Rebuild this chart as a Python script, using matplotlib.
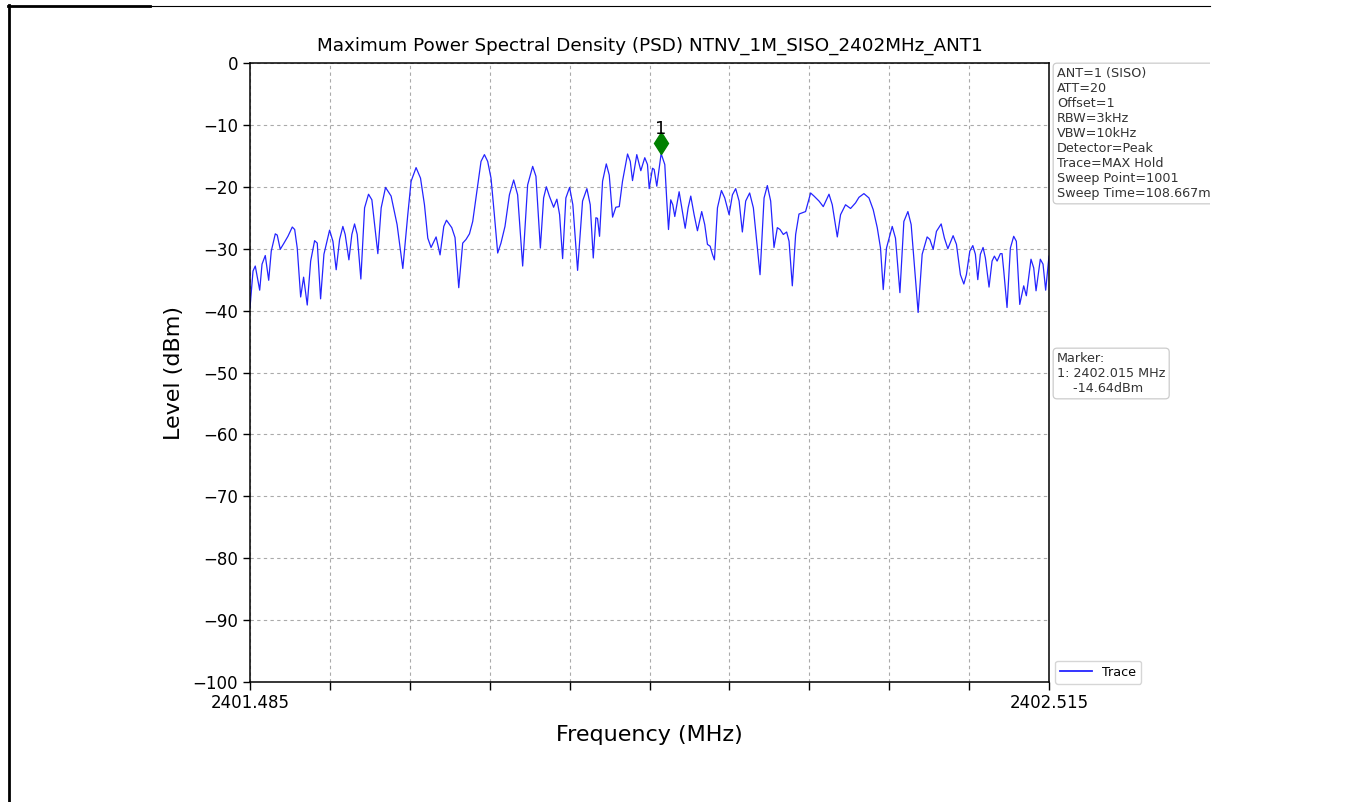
import matplotlib
matplotlib.use("Agg")
import matplotlib.pyplot as plt
from matplotlib import transforms
from matplotlib.lines import Line2D
from matplotlib.patches import Rectangle

# ---------------- data ----------------
freq_mhz = [
    2401.4850, 2401.4889, 2401.4918, 2401.4975, 2401.5005, 2401.5047, 2401.5091, 2401.5124,
    2401.5176, 2401.5201, 2401.5240, 2401.5288, 2401.5339, 2401.5395, 2401.5426, 2401.5459,
    2401.5503, 2401.5541, 2401.5588, 2401.5632, 2401.5683, 2401.5717, 2401.5760, 2401.5803,
    2401.5876, 2401.5919, 2401.5961, 2401.6005, 2401.6047, 2401.6077, 2401.6125, 2401.6163,
    2401.6198, 2401.6232, 2401.6279, 2401.6327, 2401.6378, 2401.6421, 2401.6498, 2401.6541,
    2401.6597, 2401.6669, 2401.6746, 2401.6820, 2401.6884, 2401.6927, 2401.6991, 2401.7048,
    2401.7099, 2401.7142, 2401.7184, 2401.7249, 2401.7300, 2401.7348, 2401.7383, 2401.7451,
    2401.7493, 2401.7541, 2401.7592, 2401.7635, 2401.7679, 2401.7721, 2401.7786, 2401.7828,
    2401.7872, 2401.7914, 2401.7957, 2401.8000, 2401.8043, 2401.8085, 2401.8137, 2401.8194,
    2401.8249, 2401.8300, 2401.8365, 2401.8429, 2401.8494, 2401.8536, 2401.8593, 2401.8635,
    2401.8670, 2401.8709, 2401.8764, 2401.8806, 2401.8841, 2401.8880, 2401.8922, 2401.8970,
    2401.9012, 2401.9073, 2401.9137, 2401.9193, 2401.9236, 2401.9275, 2401.9309, 2401.9330,
    2401.9356, 2401.9395, 2401.9443, 2401.9481, 2401.9524, 2401.9566, 2401.9610, 2401.9652,
    2401.9717, 2401.9752, 2401.9781, 2401.9836, 2401.9888, 2401.9939, 2401.9974, 2401.9996,
    2402.0039, 2402.0060, 2402.0094, 2402.0125, 2402.0150, 2402.0197, 2402.0223, 2402.0245,
    2402.0274, 2402.0300, 2402.0326, 2402.0382, 2402.0425, 2402.0460, 2402.0498, 2402.0532,
    2402.0575, 2402.0618, 2402.0673, 2402.0712, 2402.0747, 2402.0782, 2402.0811, 2402.0837,
    2402.0876, 2402.0927, 2402.0970, 2402.1026, 2402.1069, 2402.1111, 2402.1155, 2402.1197,
    2402.1240, 2402.1291, 2402.1339, 2402.1425, 2402.1477, 2402.1519, 2402.1562, 2402.1605,
    2402.1648, 2402.1683, 2402.1725, 2402.1768, 2402.1799, 2402.1841, 2402.1884, 2402.1927,
    2402.1970, 2402.2012, 2402.2077, 2402.2121, 2402.2185, 2402.2240, 2402.2314, 2402.2356,
    2402.2421, 2402.2463, 2402.2527, 2402.2592, 2402.2656, 2402.2700, 2402.2764, 2402.2829,
    2402.2884, 2402.2936, 2402.2978, 2402.3013, 2402.3055, 2402.3129, 2402.3171, 2402.3228,
    2402.3279, 2402.3331, 2402.3373, 2402.3463, 2402.3515, 2402.3579, 2402.3614, 2402.3657,
    2402.3699, 2402.3760, 2402.3802, 2402.3846, 2402.3914, 2402.3957, 2402.4008, 2402.4052,
    2402.4085, 2402.4129, 2402.4168, 2402.4201, 2402.4232, 2402.4265, 2402.4300, 2402.4330,
    2402.4377, 2402.4416, 2402.4446, 2402.4481, 2402.4523, 2402.4545, 2402.4567, 2402.4609,
    2402.4652, 2402.4695, 2402.4729, 2402.4773, 2402.4824, 2402.4858, 2402.4918, 2402.4953,
    2402.4983, 2402.5038, 2402.5073, 2402.5107, 2402.5150,
]
level_dbm = [
    -39.5, -33.6, -32.8, -36.7, -32.5, -31.1, -35.1, -30.4,
    -27.6, -27.8, -30.1, -29.1, -28.0, -26.5, -26.9, -29.9,
    -37.8, -34.6, -39.1, -32.0, -28.7, -29.1, -38.1, -30.9,
    -27.0, -28.8, -33.4, -28.5, -26.4, -27.7, -31.8, -27.7,
    -26.0, -27.7, -34.9, -23.4, -21.2, -22.1, -30.8, -23.4,
    -20.1, -21.5, -26.1, -33.2, -24.5, -19.1, -16.9, -18.6,
    -22.9, -28.3, -29.8, -28.1, -31.0, -26.4, -25.4, -26.6,
    -28.2, -36.3, -29.1, -28.5, -27.6, -25.6, -19.7, -15.9,
    -14.8, -15.9, -18.6, -24.5, -30.7, -29.1, -26.4, -21.3,
    -18.9, -21.3, -32.8, -19.7, -16.7, -18.3, -29.9, -21.8,
    -20.0, -21.5, -23.3, -22.0, -24.5, -31.6, -21.8, -20.1,
    -22.9, -33.5, -22.3, -20.3, -22.9, -31.5, -25.0, -25.1,
    -28.0, -19.1, -16.3, -18.1, -24.9, -23.3, -23.2, -19.1,
    -14.7, -15.9, -19.0, -14.8, -17.4, -15.3, -16.4, -20.3,
    -17.0, -17.2, -19.9, -17.0, -14.64, -16.4, -22.3, -26.9,
    -22.1, -22.9, -24.8, -20.8, -24.0, -26.7, -23.4, -21.5,
    -24.5, -27.1, -24.0, -26.1, -29.3, -29.6, -30.9, -31.8,
    -23.4, -20.6, -21.8, -24.5, -21.3, -20.3, -22.3, -27.3,
    -22.3, -21.0, -23.4, -34.2, -21.8, -19.8, -22.3, -29.8,
    -26.6, -26.9, -27.7, -27.3, -28.8, -36.0, -27.7, -24.4,
    -24.2, -24.0, -21.0, -21.5, -22.3, -23.2, -21.2, -22.9,
    -28.1, -24.5, -22.9, -23.5, -22.6, -21.7, -21.1, -21.8,
    -23.7, -26.6, -29.9, -36.6, -29.9, -26.4, -28.3, -37.1,
    -25.6, -24.0, -26.1, -40.3, -30.9, -28.1, -28.5, -30.1,
    -27.2, -26.0, -28.3, -30.0, -27.9, -29.3, -34.2, -35.7,
    -34.2, -30.4, -29.5, -30.9, -35.0, -30.9, -29.8, -31.5,
    -36.2, -32.0, -31.2, -32.0, -30.8, -30.8, -33.6, -39.5,
    -29.9, -28.0, -28.8, -39.0, -36.0, -37.6, -31.7, -33.1,
    -36.8, -31.7, -32.5, -36.7, -31.2,
]

marker_freq = 2402.015
marker_level = -14.64

x_start, x_stop = 2401.485, 2402.515
x_tick_count = 11
y_ticks = [0, -10, -20, -30, -40, -50, -60, -70, -80, -90, -100]

title_text = "Maximum Power Spectral Density (PSD) NTNV_1M_SISO_2402MHz_ANT1"
info_lines = [
    "ANT=1 (SISO)",
    "ATT=20",
    "Offset=1",
    "RBW=3kHz",
    "VBW=10kHz",
    "Detector=Peak",
    "Trace=MAX Hold",
    "Sweep Point=1001",
    "Sweep Time=108.667ms",
]
marker_lines = ["Marker:", "1: 2402.015 MHz", "    -14.64dBm"]

# ---------------- figure ----------------
W, H = 1351, 802
fig = plt.figure(figsize=(W / 100, H / 100), dpi=100)
fig.patch.set_facecolor("white")

ax = fig.add_axes([250 / W, 1 - 682 / H, 799 / W, 619 / H])
ax.plot(freq_mhz, level_dbm, color="#2424ff", lw=0.9, label="Trace")

# marker
mk_tr = transforms.offset_copy(ax.transData, fig=fig, x=0, y=11, units="dots")
ax.plot([marker_freq], [marker_level], marker="d", color="green", ms=11.5,
        linestyle="none", transform=mk_tr)
ax.annotate("1", (marker_freq, marker_level), xytext=(0, 20), textcoords="offset pixels",
            ha="center", va="baseline", fontsize=13)

ax.set_xlim(x_start, x_stop)
ax.set_ylim(-100, 0)
step = (x_stop - x_start) / (x_tick_count - 1)
xt = [x_start + i * step for i in range(x_tick_count)]
ax.set_xticks(xt)
ax.set_xticklabels([f"{x_start:.3f}"] + [""] * (x_tick_count - 2) + [f"{x_stop:.3f}"])
ax.set_yticks(y_ticks)
ax.tick_params(axis="both", labelsize=12, length=5, width=1, direction="out")
ax.tick_params(axis="x", length=6, pad=3)
ax.grid(True, linestyle=(0, (3, 3)), color="#aaaaaa", lw=0.8)
for s in ax.spines.values():
    s.set_linewidth(1.1)
    s.set_color("black")

ax.set_title(title_text, fontsize=13.2, pad=9)
ax.set_xlabel("Frequency (MHz)", fontsize=16, labelpad=9)
ax.set_ylabel("Level (dBm)", fontsize=16, labelpad=6)

# info boxes
box_kw = dict(boxstyle="round,pad=0.3", fc="white", ec="#cccccc", lw=0.9)
ax.text(1.0 + 8 / 799, 1.0 - 4 / 619, "\n".join(info_lines), transform=ax.transAxes,
        va="top", ha="left", fontsize=9.2, color="#333333", bbox=box_kw, linespacing=1.2)
ax.text(1.0 + 8 / 799, 1.0 - 289 / 619, "\n".join(marker_lines), transform=ax.transAxes,
        va="top", ha="left", fontsize=9.2, color="#333333", bbox=box_kw, linespacing=1.2)

leg = ax.legend(loc="lower left", bbox_to_anchor=(1.0 + 6 / 799, -2 / 619),
                borderaxespad=0, fontsize=9.2, frameon=True, fancybox=True,
                handlelength=2.5)
leg.get_frame().set_edgecolor("#cccccc")
for h in leg.get_lines():
    h.set_linewidth(1.3)

# crop region on the right (screenshot edge)
fig.patches.append(Rectangle((1210 / W, 0), 1 - 1210 / W, 1, transform=fig.transFigure,
                             facecolor="white", edgecolor="none", zorder=20))

# screenshot border lines
fig.lines.append(Line2D([9 / W, 9 / W], [0, 1 - 5 / H], transform=fig.transFigure,
                        color="black", lw=2.0, zorder=21))
fig.lines.append(Line2D([8 / W, 150 / W], [1 - 6 / H, 1 - 6 / H], transform=fig.transFigure,
                        color="black", lw=2.0, zorder=21))
fig.lines.append(Line2D([150 / W, 1210 / W], [1 - 6 / H, 1 - 6 / H], transform=fig.transFigure,
                        color="black", lw=0.8, zorder=21))

fig.savefig("out.png", dpi=100)
